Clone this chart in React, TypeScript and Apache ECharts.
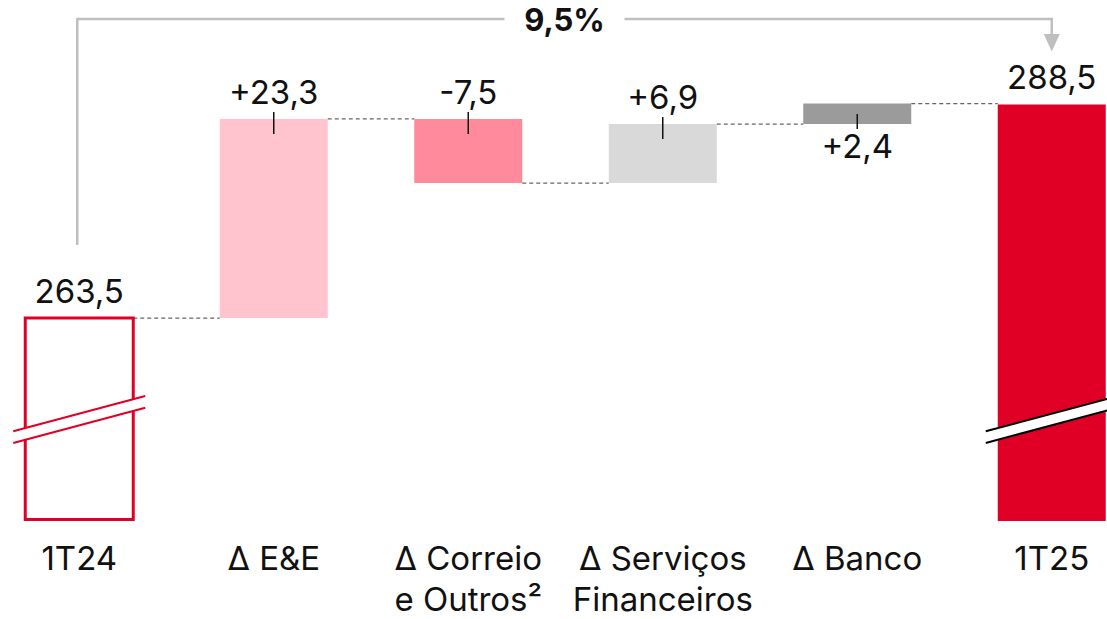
import React, { useEffect, useRef } from 'react';
import * as echarts from 'echarts';

// ---- data ----
const categories = ['1T24', 'Δ E&E', 'Δ Correio\ne Outros²', 'Δ Serviços\nFinanceiros', 'Δ Banco', '1T25'];
const startValue = 263.5;
const deltas = [23.3, -7.5, 6.9, 2.4];
const endValue = 288.5;
const deltaColors = ['#FFC4CE', '#FF8A9C', '#D9D9D9', '#9B9B9B'];
const deltaLabelBelow = [false, false, false, true];
const axisMin = 239.75;
const axisMax = 300.25;

// ---- styles ----
const FONT = 'Inter, "Noto Sans", sans-serif';
const FONT_SIZE = 33;
const RED = '#E00025';
const TEXT = '#111111';
const BAR_RATIO = 108 / 194.5;
const BREAK_OFFSET = 101.5;
const BREAK_GAP = 11.6;
const BREAK_SLOPE = 0.267;
const BREAK_EXT = 12;
const BRACKET_Y = 19;

const fmt = (v: number) => v.toFixed(1).replace('.', ',');

type Item = { low: number; high: number; kind: 'outline' | 'solid' | 'delta'; color: string; label: string; below: boolean };

const items: Item[] = [];
const connectorLevels: number[] = [];
items.push({ low: axisMin, high: startValue, kind: 'outline', color: RED, label: fmt(startValue), below: false });
let running = startValue;
connectorLevels.push(running);
deltas.forEach((d, k) => {
  const next = running + d;
  items.push({
    low: Math.min(running, next),
    high: Math.max(running, next),
    kind: 'delta',
    color: deltaColors[k],
    label: (d > 0 ? '+' : '') + fmt(d),
    below: deltaLabelBelow[k],
  });
  running = next;
  connectorLevels.push(running);
});
items.push({ low: axisMin, high: endValue, kind: 'solid', color: RED, label: fmt(endValue), below: false });

const growthText = fmt((endValue / startValue - 1) * 100) + '%';

function textEl(text: string, x: number, y: number, bold = false) {
  return {
    type: 'text',
    x,
    y,
    style: {
      text,
      align: 'center',
      verticalAlign: 'middle',
      fill: TEXT,
      fontSize: bold ? 31 : FONT_SIZE,
      fontWeight: bold ? 'bold' : 'normal',
      fontFamily: FONT,
    },
  };
}

function buildOption() {
  const barSeries = {
    type: 'custom',
    clip: false,
    encode: { x: 0, y: [1, 2] },
    data: items.map((b, i) => [i, b.low, b.high]),
    renderItem: (params: any, api: any) => {
      const i = api.value(0);
      const it = items[params.dataIndex];
      const pLow = api.coord([i, api.value(1)]);
      const pHigh = api.coord([i, api.value(2)]);
      const bw = api.size([1, 0])[0] * BAR_RATIO;
      const cx = pLow[0];
      const left = cx - bw / 2;
      const children: any[] = [];
      if (it.kind === 'outline') {
        children.push({
          type: 'rect',
          shape: { x: left, y: pHigh[1], width: bw, height: pLow[1] - pHigh[1] - 1.5 },
          style: { fill: '#ffffff', stroke: it.color, lineWidth: 3 },
        });
      } else {
        children.push({
          type: 'rect',
          shape: { x: left, y: pHigh[1], width: bw, height: pLow[1] - pHigh[1] },
          style: { fill: it.color },
        });
      }
      if (it.kind !== 'delta') {
        const cy = pLow[1] - BREAK_OFFSET;
        const x0 = left - BREAK_EXT;
        const x1 = left + bw + BREAK_EXT;
        const xm = (x0 + x1) / 2;
        const yAt = (xx: number, off: number) => cy + off - (xx - xm) * BREAK_SLOPE;
        const lineColor = it.kind === 'outline' ? RED : '#000000';
        children.push({
          type: 'polygon',
          shape: {
            points: [
              [x0, yAt(x0, -BREAK_GAP / 2)],
              [x1, yAt(x1, -BREAK_GAP / 2)],
              [x1, yAt(x1, BREAK_GAP / 2)],
              [x0, yAt(x0, BREAK_GAP / 2)],
            ],
          },
          style: { fill: '#ffffff' },
        });
        [-BREAK_GAP / 2, BREAK_GAP / 2].forEach((off) => {
          children.push({
            type: 'line',
            shape: { x1: x0, y1: yAt(x0, off), x2: x1, y2: yAt(x1, off) },
            style: { stroke: lineColor, lineWidth: 2 },
          });
        });
      }
      if (it.kind === 'delta') {
        if (it.below) {
          children.push({
            type: 'line',
            shape: { x1: cx, y1: pLow[1] - 10, x2: cx, y2: pLow[1] + 5 },
            style: { stroke: TEXT, lineWidth: 1.5 },
          });
        } else {
          children.push({
            type: 'line',
            shape: { x1: cx, y1: pHigh[1] - 7, x2: cx, y2: pHigh[1] + 15 },
            style: { stroke: TEXT, lineWidth: 1.5 },
          });
        }
      }
      if (it.below) {
        children.push(textEl(it.label, cx, pLow[1] + 22));
      } else {
        children.push(textEl(it.label, cx, pHigh[1] - 27));
      }
      return { type: 'group', children };
    },
  };

  const connectorSeries = {
    type: 'custom',
    clip: false,
    encode: { x: 0, y: 1 },
    data: connectorLevels.map((lv, k) => [k, lv]),
    renderItem: (params: any, api: any) => {
      const k = api.value(0);
      const lv = api.value(1);
      const p0 = api.coord([k, lv]);
      const p1 = api.coord([k + 1, lv]);
      const bw = api.size([1, 0])[0] * BAR_RATIO;
      return {
        type: 'line',
        shape: { x1: p0[0] + bw / 2, y1: p0[1], x2: p1[0] - bw / 2, y2: p1[1] },
        style: { stroke: '#666666', lineWidth: 1.2, lineDash: [4, 3] },
      };
    },
  };

  const bracketSeries = {
    type: 'custom',
    clip: false,
    encode: { x: [0, 2], y: [1, 3] },
    data: [[0, startValue, categories.length - 1, endValue]],
    renderItem: (params: any, api: any) => {
      const pl = api.coord([api.value(0), api.value(1)]);
      const pr = api.coord([api.value(2), api.value(3)]);
      const xl = pl[0] - 2;
      const xr = pr[0];
      const mid = (xl + xr) / 2;
      const half = 60;
      const tip = pr[1] - 53;
      const arrowTop = tip - 17.5;
      const gray = '#BFBFBF';
      return {
        type: 'group',
        children: [
          {
            type: 'polyline',
            shape: { points: [[xl, pl[1] - 73], [xl, BRACKET_Y], [mid - half, BRACKET_Y]] },
            style: { stroke: gray, lineWidth: 2.5, fill: 'none' },
          },
          {
            type: 'polyline',
            shape: { points: [[mid + half, BRACKET_Y], [xr, BRACKET_Y], [xr, arrowTop + 1]] },
            style: { stroke: gray, lineWidth: 2.5, fill: 'none' },
          },
          {
            type: 'polygon',
            shape: { points: [[xr - 8, arrowTop], [xr + 8, arrowTop], [xr, tip]] },
            style: { fill: gray },
          },
          textEl(growthText, mid, BRACKET_Y, true),
        ],
      };
    },
  };

  return {
    animation: false,
    backgroundColor: '#ffffff',
    grid: { left: 0, right: 0, top: 4, bottom: 98, containLabel: false, outerBoundsMode: 'none' },
    xAxis: {
      type: 'category',
      data: categories,
      axisLine: { show: false },
      axisTick: { show: false },
      splitLine: { show: false },
      axisLabel: {
        interval: 0,
        color: TEXT,
        fontSize: FONT_SIZE,
        fontFamily: FONT,
        lineHeight: 41,
        margin: 16,
      },
    },
    yAxis: { type: 'value', min: axisMin, max: axisMax, show: false },
    series: [connectorSeries, barSeries, bracketSeries],
  };
}

export default function App() {
  const ref = useRef<HTMLDivElement>(null);
  useEffect(() => {
    if (!ref.current) return;
    const chart = echarts.init(ref.current, undefined, { renderer: 'svg' });
    chart.setOption(buildOption() as any);
    return () => chart.dispose();
  }, []);
  return (
    <div style={{ position: 'fixed', left: 0, top: 0, width: 1107, height: 619, overflow: 'hidden', background: '#ffffff' }}>
      <div
        ref={ref}
        style={{ position: 'absolute', left: -18, top: 0, width: 1167, height: 619 }}
      />
    </div>
  );
}
